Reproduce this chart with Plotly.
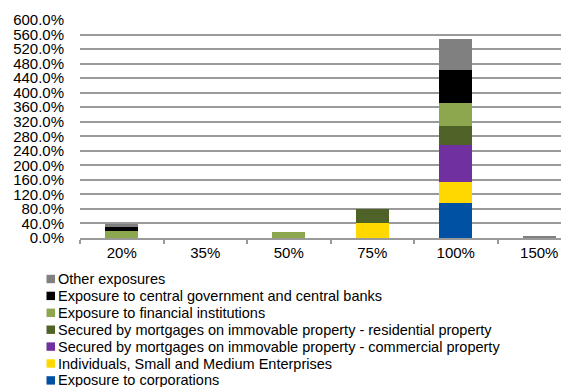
import plotly.graph_objects as go

categories = ["20%", "35%", "50%", "75%", "100%", "150%"]

corporations = [0, 0, 0, 0, 97, 0]
individuals_sme = [0, 0, 0, 40, 58, 0]
commercial_property = [0, 0, 0, 0, 101, 0]
residential_property = [0, 0, 0, 41, 51, 0]
financial_institutions = [19, 0, 17, 0, 64, 0]
central_government = [10, 0, 0, 0, 92, 0]
other_exposures = [9, 0, 0, 0, 84, 3]

series_names = [
    "Exposure to corporations",
    "Individuals, Small and Medium Enterprises",
    "Secured by mortgages on immovable property - commercial property",
    "Secured by mortgages on immovable property - residential property",
    "Exposure to financial institutions",
    "Exposure to central government and central banks",
    "Other exposures",
]
series_values = [corporations, individuals_sme, commercial_property,
                 residential_property, financial_institutions,
                 central_government, other_exposures]
series_colors = ["#0050A4", "#FFD800", "#7030A0", "#4F6228", "#8CA74E", "#000000", "#808080"]

y_ticks = list(range(0, 601, 40))

# page body has an 8px margin; figure sized to fit the 569x387 window
OFF = 8
W, H = 569 - OFF, 387 - OFF
ML, MR, MT = 80 - OFF, 0, 20 - OFF
MB = H - (238 - OFF)
PW, PH = W - ML - MR, H - MT - MB


def px_x(px):
    return (px - OFF - ML) / PW


def px_y(py):
    return (H - MB - (py - OFF)) / PH


fig = go.Figure()
for name, vals, color in zip(series_names, series_values, series_colors):
    fig.add_trace(go.Bar(x=categories, y=vals, name=name, showlegend=False,
                         marker=dict(color=color, line=dict(width=0))))

font = "Liberation Sans, Arial, sans-serif"

# custom legend (reversed order, tight rows)
shapes = []
annotations = []
row0, row_step = 279, 16.9
for i, (name, color) in enumerate(zip(series_names[::-1], series_colors[::-1])):
    cy = row0 + i * row_step
    shapes.append(dict(type="rect", xref="paper", yref="paper",
                       x0=px_x(46.5), x1=px_x(55), y0=px_y(cy + 4.2), y1=px_y(cy - 4.2),
                       fillcolor=color, line=dict(width=0)))
    annotations.append(dict(text=name, xref="paper", yref="paper", x=px_x(55.5),
                            y=px_y(cy), xanchor="left", yanchor="middle", showarrow=False,
                            font=dict(family=font, size=14.5, color="#000000")))

fig.update_layout(
    width=W, height=H, autosize=False,
    margin=dict(l=ML, r=MR, t=MT, b=MB, pad=0, autoexpand=False),
    barmode="stack", bargap=0.6,
    plot_bgcolor="white", paper_bgcolor="white",
    font=dict(family=font, size=15, color="#000000"),
    showlegend=False,
    shapes=shapes, annotations=annotations,
    xaxis=dict(range=[-0.5, 5.356], showline=True, linecolor="#9a9a9a", linewidth=1.5,
               ticks="outside", tickson="boundaries", ticklen=4, tickcolor="#9a9a9a",
               tickwidth=1.5, showgrid=False, tickfont=dict(size=15), automargin=False),
    yaxis=dict(range=[0, 600], tickvals=y_ticks, ticktext=[f"{v:.1f}%" for v in y_ticks],
               showgrid=True, gridcolor="#9a9a9a", gridwidth=1.5, zeroline=False,
               showline=False, ticks="", ticklabelstandoff=15, tickfont=dict(size=15),
               automargin=False),
)

fig.write_html("out.html")
